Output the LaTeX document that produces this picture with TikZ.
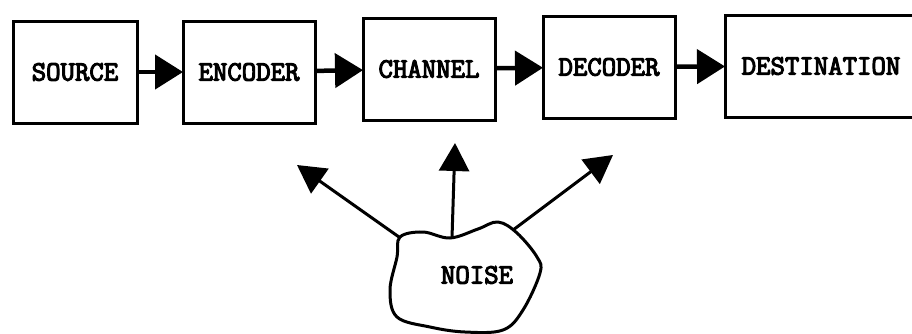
\documentclass[tikz,border=0pt]{standalone}
\usepackage{fontspec}
\newfontface\typed{Latin Modern Mono}[FakeBold=4]
\usetikzlibrary{positioning,arrows.meta,calc}

\begin{document}
\begin{tikzpicture}[x=1pt, y=1pt,
					box/.style={draw, line width=3pt, outer sep=0pt, minimum width=132pt, minimum height=102pt, font=\typed\fontsize{28}{32}\selectfont},
					flow/.style={line width=4.5pt, -{Triangle[length=28pt, width=34pt]}},
					spray/.style={line width=3pt, -{Triangle[length=28pt, width=30pt]}},
					node distance=47pt]
					\useasboundingbox (0,0) rectangle (912,333);
					\node [box, minimum width=124pt] (src) at (75,261) {SOURCE};
					\node [box, right=46pt of src] (enc) {ENCODER};
					\node [box, right=48pt of enc, yshift=3pt] (chan) {CHANNEL};
					\node [box, right=48pt of chan, yshift=2pt] (dec) {DECODER};
					\node [box, right=50pt of dec, yshift=1pt, minimum width=192pt] (dest) {DESTINATION};
					
					\draw [flow] (src) -- (enc);
					\draw [flow] (enc) -- (chan);
					\draw [flow] (chan) -- (dec);
					\draw [flow] (dec) -- (dest);
					
					% the noise blob
					\node [font=\typed\fontsize{28}{32}\selectfont] (noise) at (477,58) {NOISE};
					\draw [line width=3pt, line join=round] plot [smooth cycle, tension=0.6] coordinates {
						(400,96) (423,101) (450,95) (478,104) (498,111) (517,100) (537,76) (540,60)
						(523,23) (503,3) (465,1) (430,6) (397,16) (390,43) (397,76)};
					\coordinate (n1) at (399,96);
					\coordinate (n2) at (452,95);
					\coordinate (n3) at (513,103);
					\coordinate (t1) at (297,168);
					\coordinate (t2) at (455,190);
					\coordinate (t3) at (613,178);
					
					\draw [spray] (n1) -- (t1);
					\draw [spray] (n2) -- (t2);
					\draw [spray] (n3) -- (t3);
				\end{tikzpicture}
\end{document}
